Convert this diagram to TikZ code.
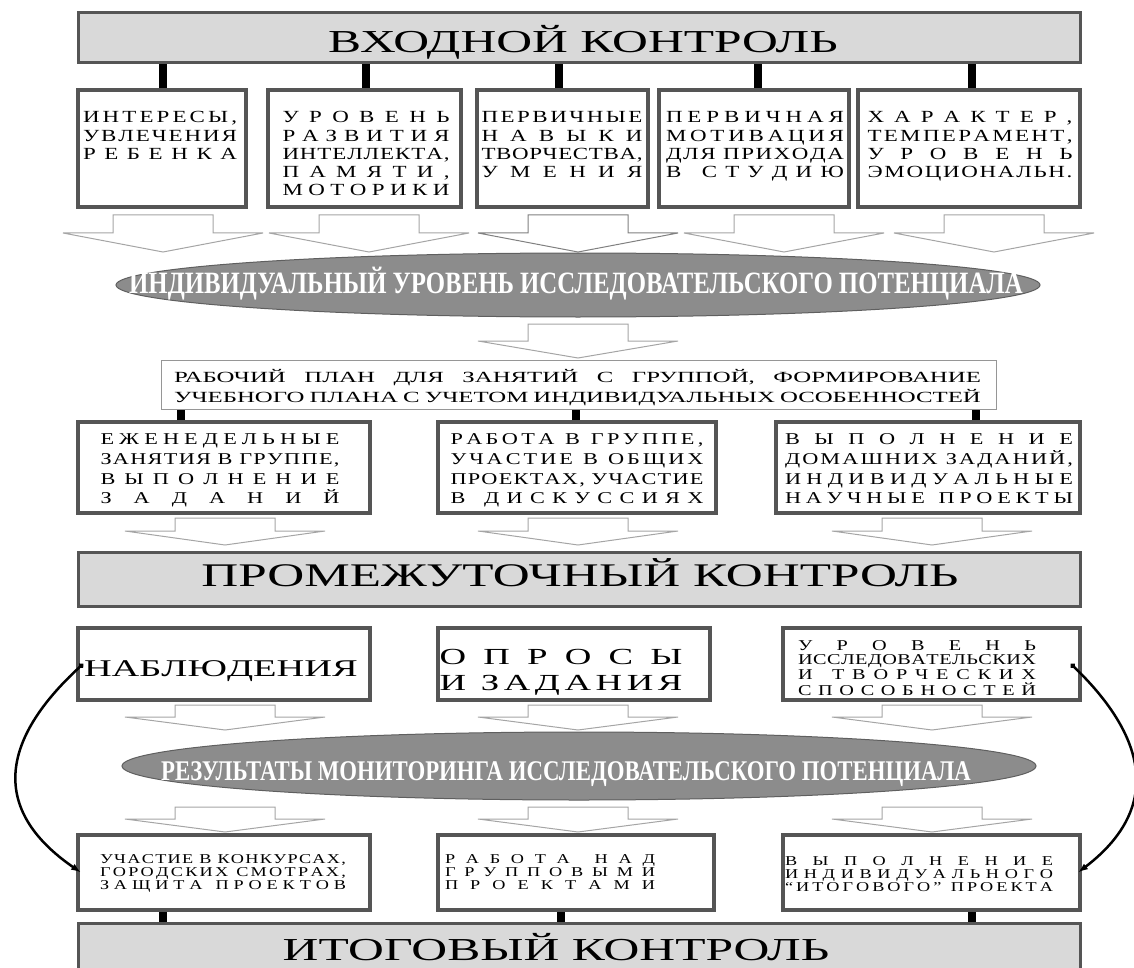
\documentclass[tikz,border=0pt]{standalone}
\usepackage{fontspec}
\setmainfont{Liberation Serif}
\newfontfamily\boxfont[FakeStretch=1.35]{Liberation Serif}
\newfontfamily\planfont[FakeStretch=1.6]{Liberation Serif}
\newfontfamily\bandfont[FakeStretch=1.55]{Liberation Serif}
\newfontfamily\ovalfont[FakeStretch=0.8]{Liberation Serif}
\usetikzlibrary{shapes.geometric,arrows.meta,positioning}

\definecolor{bandfill}{RGB}{217,217,217}
\definecolor{frame}{RGB}{85,85,85}
\definecolor{planline}{RGB}{150,150,150}
\definecolor{ovalfill}{RGB}{140,140,140}
\definecolor{ovalline}{RGB}{95,95,95}
\definecolor{arrowline}{RGB}{165,165,165}

\lineskiplimit=-\maxdimen

% spread letters of one line over the whole width, ~ marks a word gap
\makeatletter
\def\jl@tl{~}
\def\jl@strut{\vrule height .7em depth .2em width 0pt\relax}
\newcommand\jl[1]{\par\hbox to\hsize{\jl@strut\let\jl@sep\relax
  \@tfor\jl@c:=#1\do{\ifx\jl@c\jl@tl\jl@sep\hskip.25em\relax\else\jl@sep\jl@c\fi
    \def\jl@sep{\hskip 0pt plus 1fil\relax}}}}
% justify one line on its word spaces only
\newcommand\pl[1]{\par\hbox to\hsize{\jl@strut\spaceskip=.3em plus 1fil\relax#1}}
\makeatother

% hollow block arrow: centre x, top, shoulder, tip
\newcommand\blockarrow[5][]{%
  \draw[hollow,#1] ({#2-50},#3) -- ({#2+50},#3) -- ({#2+50},#4) -- ({#2+100},#4)
    -- (#2,#5) -- ({#2-100},#4) -- ({#2-50},#4) -- cycle;}

\begin{document}
\begin{tikzpicture}[x=1pt,y=-1pt,
  band/.style={draw=frame, line width=3pt, fill=bandfill, minimum width=1002, minimum height=50, inner sep=0},
  bandtext/.style={anchor=base, inner sep=0, font=\bandfont\fontsize{#1}{#1}\selectfont},
  card/.style={draw=frame, line width=4pt, fill=white, inner sep=0},
  cardtext/.style={anchor=north, inner sep=0, text width=#1},
  oval/.style={ellipse, draw=ovalline, line width=1pt, fill=ovalfill, inner sep=0},
  ovaltext/.style={anchor=base, inner sep=0, text=white, font=\ovalfont\bfseries\fontsize{#1}{#1}\selectfont},
  hollow/.style={draw=arrowline, line width=1pt, fill=white},
  link/.style={line width=8pt},
  loop link/.style={line width=2.5pt, {Circle[length=5pt]}-{Latex[length=10pt,width=7pt]}}
]
\useasboundingbox (0,0) rectangle (1134,968);

% entry control
\node[band] (entry) at (579,38) {};
\node[bandtext=32] (entrytext) at (583,53) {ВХОДНОЙ КОНТРОЛЬ};

\node[card, minimum width=168, minimum height=117] (in1) at (162,148.5) {};
\node[card, minimum width=193, minimum height=117] (in2) at (364.5,148.5) {};
\node[card, minimum width=171, minimum height=117] (in3) at (562.5,148.5) {};
\node[card, minimum width=190, minimum height=117] (in4) at (754,148.5) {};
\node[card, minimum width=222, minimum height=117] (in5) at (969,148.5) {};

\begin{scope}[font=\boxfont\fontsize{17}{18.2}\selectfont]
\node[cardtext=154pt] (in1text) at (160,104.5) {\jl{ИНТЕРЕСЫ,}\jl{УВЛЕЧЕНИЯ}\jl{РЕБЕНКА}};
\node[cardtext=167pt] (in2text) at (366,104.5) {\jl{УРОВЕНЬ}\jl{РАЗВИТИЯ}\jl{ИНТЕЛЛЕКТА,}\jl{ПАМЯТИ,}\jl{МОТОРИКИ}};
\node[cardtext=161pt] (in3text) at (562,104.5) {\jl{ПЕРВИЧНЫЕ}\jl{НАВЫКИ}\jl{ТВОРЧЕСТВА,}\jl{УМЕНИЯ}};
\node[cardtext=178pt] (in4text) at (755,104.5) {\jl{ПЕРВИЧНАЯ}\jl{МОТИВАЦИЯ}\jl{ДЛЯ~ПРИХОДА}\jl{В~СТУДИЮ}};
\node[cardtext=205pt] (in5text) at (970,104.5) {\jl{ХАРАКТЕР,}\jl{ТЕМПЕРАМЕНТ,}\jl{УРОВЕНЬ}\jl{ЭМОЦИОНАЛЬН.}};
\end{scope}

\foreach \b/\dx in {in1/1,in2/1.5,in3/-3.5,in4/4,in5/3} {
  \coordinate (\b-c) at ([xshift=\dx pt]\b.north);
  \draw[link] (\b-c) -- (\b-c |- entry.south);
}

\foreach \x in {163,369,784,994} {\blockarrow{\x}{215}{233}{252}}
\blockarrow[draw=gray]{578}{215}{233}{252}

\node[oval, minimum width=924, minimum height=64] (level) at (578,285) {};
\node[ovaltext=31] (leveltext) at (576,293) {ИНДИВИДУАЛЬНЫЙ УРОВЕНЬ ИССЛЕДОВАТЕЛЬСКОГО ПОТЕНЦИАЛА};

\blockarrow{578}{324}{341}{358}

% working plan
\node[draw=planline, line width=1pt, fill=white, minimum width=835, minimum height=49, inner sep=0] (plan) at (578.5,384.5) {};
\node[cardtext=807pt, font=\planfont\fontsize{15.5}{20}\selectfont] (plantext) at (577.5,362.5)
  {\pl{РАБОЧИЙ ПЛАН ДЛЯ ЗАНЯТИЙ С ГРУППОЙ, ФОРМИРОВАНИЕ}\pl{УЧЕБНОГО ПЛАНА С УЧЕТОМ ИНДИВИДУАЛЬНЫХ ОСОБЕННОСТЕЙ}};

\node[card, minimum width=292, minimum height=91] (grp1) at (224,467.5) {};
\node[card, minimum width=278, minimum height=91] (grp2) at (577,467.5) {};
\node[card, minimum width=304, minimum height=91] (grp3) at (928,467.5) {};

\begin{scope}[font=\boxfont\fontsize{16.5}{19.8}\selectfont]
\node[cardtext=239pt] (grp1text) at (220,424.5) {\jl{ЕЖЕНЕДЕЛЬНЫЕ}\jl{ЗАНЯТИЯ~В~ГРУППЕ,}\jl{ВЫПОЛНЕНИЕ}\jl{ЗАДАНИЙ}};
\node[cardtext=253pt] (grp2text) at (577,424.5) {\jl{РАБОТА~В~ГРУППЕ,}\jl{УЧАСТИЕ~В~ОБЩИХ}\jl{ПРОЕКТАХ,~УЧАСТИЕ}\jl{В~ДИСКУССИЯХ}};
\node[cardtext=288pt] (grp3text) at (929,424.5) {\jl{ВЫПОЛНЕНИЕ}\jl{ДОМАШНИХ~ЗАДАНИЙ,}\jl{ИНДИВИДУАЛЬНЫЕ}\jl{НАУЧНЫЕ~ПРОЕКТЫ}};
\end{scope}

\foreach \b/\dx in {grp1/-43,grp2/-1,grp3/48} {
  \coordinate (\b-c) at ([xshift=\dx pt]\b.north);
  \draw[link] (\b-c) -- (\b-c |- plan.south);
}

\foreach \x in {225,578,932} {\blockarrow{\x}{518}{531}{545}}

% intermediate control
\node[band, minimum height=54] (midctl) at (579,579) {};
\node[bandtext=33] (midtext) at (580,586) {ПРОМЕЖУТОЧНЫЙ КОНТРОЛЬ};

\node[card, minimum width=292, minimum height=72] (obs) at (224,664) {};
\node[card, minimum width=272, minimum height=72] (quiz) at (574,664) {};
\node[card, minimum width=297, minimum height=72] (skill) at (931.5,664) {};

\node[cardtext=272pt, font=\planfont\fontsize{24}{24}\selectfont] (obstext) at (220,652.5) {\jl{НАБЛЮДЕНИЯ}};
\node[cardtext=243pt, font=\planfont\fontsize{23}{26}\selectfont] (quiztext) at (561,638.5) {\jl{ОПРОСЫ}\jl{И~ЗАДАНИЯ}};
\node[cardtext=238pt, font=\boxfont\fontsize{15}{14.3}\selectfont] (skilltext) at (917,636)
  {\jl{УРОВЕНЬ}\jl{ИССЛЕДОВАТЕЛЬСКИХ}\jl{И~ТВОРЧЕСКИХ}\jl{СПОСОБНОСТЕЙ}};

\foreach \x in {225,578,932} {\blockarrow{\x}{705}{717}{730}}

\node[oval, minimum width=914, minimum height=68] (result) at (579,766) {};
\node[ovaltext=28.5] (resulttext) at (566,780) {РЕЗУЛЬТАТЫ МОНИТОРИНГА ИССЛЕДОВАТЕЛЬСКОГО ПОТЕНЦИАЛА};

\foreach \x in {225,578,932} {\blockarrow{\x}{807}{819}{832}}

% final control
\node[card, minimum width=292, minimum height=75] (fin1) at (224,872.5) {};
\node[card, minimum width=276, minimum height=75] (fin2) at (576,872.5) {};
\node[card, minimum width=297, minimum height=75] (fin3) at (931.5,872.5) {};

\begin{scope}[font=\boxfont\fontsize{13.5}{11}\selectfont]
\node[cardtext=246pt] (fin1text) at (223,852) {\jl{УЧАСТИЕ~В~КОНКУРСАХ,}\jl{ГОРОДСКИХ~СМОТРАХ,}\jl{ЗАЩИТА~ПРОЕКТОВ}};
\node[cardtext=210pt] (fin2text) at (550,852) {\jl{РАБОТА~НАД}\jl{ГРУППОВЫМИ}\jl{ПРОЕКТАМИ}};
\node[cardtext=268pt] (fin3text) at (919,854) {\jl{ВЫПОЛНЕНИЕ}\jl{ИНДИВИДУАЛЬНОГО}\jl{“ИТОГОВОГО”~ПРОЕКТА}};
\end{scope}

\node[band, minimum height=78] (final) at (579,962) {};
\node[bandtext=32] (finaltext) at (556,960) {ИТОГОВЫЙ КОНТРОЛЬ};

\foreach \b/\dx in {fin1/-61,fin2/-15,fin3/40.5} {
  \coordinate (\b-c) at ([xshift=\dx pt]\b.south);
  \draw[link] (\b-c) -- (\b-c |- final.north);
}

% feedback loops
\draw[loop link] ([xshift=7pt]obs.west) .. controls (0,740) and (-10,810) .. ([xshift=5pt]fin1.west);
\draw[loop link] ([xshift=-11pt]skill.east) .. controls (1150,740) and (1160,810) .. ([xshift=-4pt]fin3.east);
\end{tikzpicture}
\end{document}
